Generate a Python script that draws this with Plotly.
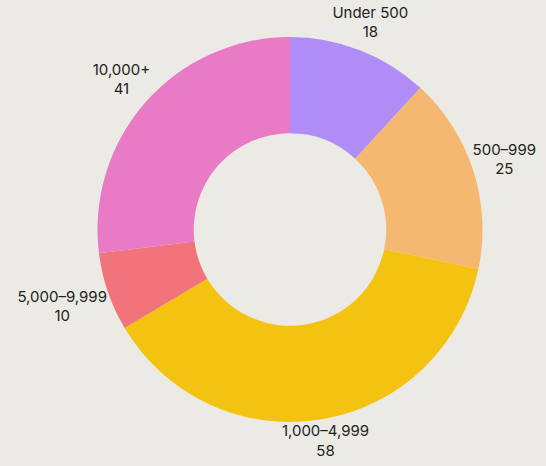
import numpy as np
import plotly.graph_objects as go

categories = ["Under 500", "500–999", "1,000–4,999", "5,000–9,999", "10,000+"]
values = [18, 25, 58, 10, 41]
colors = ["#b08cf6", "#f5b870", "#f4c311", "#f07479", "#e97ac6"]

# Figure geometry (pixels)
W, H = 546, 466
PL, PR, PT, PB = 34, 0, 37, 44          # space around the pie box
PW, PH = W - PL - PR, H - PT - PB
R = min(PW, PH) / 2.0                    # pie outer radius in px
CX = PL + PW / 2.0                       # pie centre from left (px)
CY = PT + PH / 2.0                       # pie centre from top (px)

# Label placement along each slice's mid-angle (clockwise from 12 o'clock)
vals = np.array(values, dtype=float)
mid = (np.cumsum(vals) - vals / 2.0) / vals.sum() * 2 * np.pi
char_w, half_h, gap = 8.3, 16.0, 0.0
half_w = np.array([max(len(c), len(str(v))) * char_w / 2.0 for c, v in zip(categories, values)])
dist = R + gap + half_w * np.abs(np.sin(mid)) + half_h * np.abs(np.cos(mid))
lx = dist * np.sin(mid)
ly = dist * np.cos(mid)
label_text = [f"{c}<br>{v}" for c, v in zip(categories, values)]

fig = go.Figure()
fig.add_trace(
    go.Pie(
        labels=categories,
        values=values,
        hole=0.5,
        sort=False,
        direction="clockwise",
        rotation=0,
        automargin=False,
        domain=dict(x=[PL / W, 1 - PR / W], y=[PB / H, 1 - PT / H]),
        marker=dict(colors=colors, line=dict(width=0)),
        textinfo="none",
        showlegend=False,
        hoverinfo="label+value",
    )
)
fig.add_trace(
    go.Scatter(
        x=lx,
        y=ly,
        mode="text",
        text=label_text,
        textposition="middle center",
        textfont=dict(family="Inter", size=15, color="#222222"),
        cliponaxis=False,
        hoverinfo="skip",
        showlegend=False,
    )
)

fig.update_layout(
    width=W,
    height=H,
    margin=dict(l=0, r=0, t=0, b=0),
    paper_bgcolor="#ebeae5",
    plot_bgcolor="rgba(0,0,0,0)",
    font=dict(family="Inter", size=15, color="#222222"),
    xaxis=dict(range=[-CX, W - CX], visible=False, fixedrange=True),
    yaxis=dict(range=[-(H - CY), CY], visible=False, fixedrange=True),
)

fig.write_html(
    "out.html",
    config={"displayModeBar": False},
    post_script="document.body.style.margin='0';document.body.style.background='#ebeae5';",
)
